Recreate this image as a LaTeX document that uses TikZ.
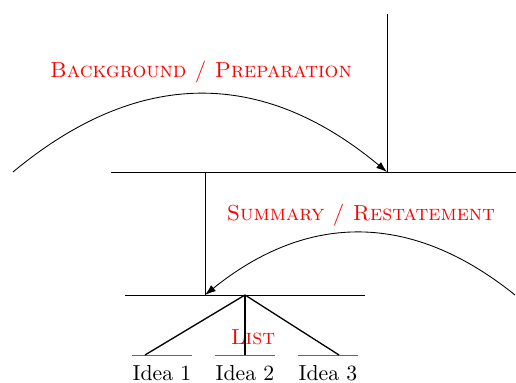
\documentclass[tikz,border=0pt]{standalone}
\usepackage{tikz}
\usetikzlibrary{arrows.meta}
\usepackage{xcolor}
\definecolor{labelred}{RGB}{255,0,0}

\begin{document}
\begin{tikzpicture}[x=0.46pt, y=-0.46pt,
    flow/.style={-{Latex[length=5pt,width=3.5pt]}},
    part/.style={labelred, font=\scshape},
    idea/.style={font=\normalsize, inner sep=1pt}]
  \useasboundingbox (0,0) rectangle (516,383);
  % Main levels
  \coordinate (top) at (387,14);
  \coordinate (mainL) at (111,172);
  \coordinate (mainR) at (516,172);
  \coordinate (mainIn) at (387,172);
  \coordinate (mainOut) at (205,172);
  \coordinate (subL) at (125,295);
  \coordinate (subR) at (365,295);
  \coordinate (subIn) at (205,295);
  \coordinate (apex) at (245,295);
  \draw (top) -- (mainIn);
  \draw (mainL) -- (mainR);
  \draw (mainOut) -- (subIn);
  \draw (subL) -- (subR);
  % Background arc
  \coordinate (bgStart) at (13,172);
  \draw[flow] (bgStart) .. controls (138,68) and (262,68) .. (mainIn);
  \node[part] (bg) at (201,72) {Background / Preparation};
  % Summary arc
  \coordinate (sumStart) at (515,295);
  \draw[flow] (sumStart) .. controls (412,212) and (308,212) .. (subIn);
  \node[part] (sum) at (361,215) {Summary / Restatement};
  % List branches
  \node[part] (list) at (253,337) {List};
  \foreach \i/\x/\tip in {1/162/145, 2/245/245, 3/328/339}{
    \coordinate (leaf\i) at (\tip,355);
    \draw[black!60] (\x-30,355) -- (\x+30,355);
    \draw[semithick] (apex) -- (leaf\i);
    \node[idea] (idea\i) at (\x,373) {Idea \i};
  }
\end{tikzpicture}
\end{document}
